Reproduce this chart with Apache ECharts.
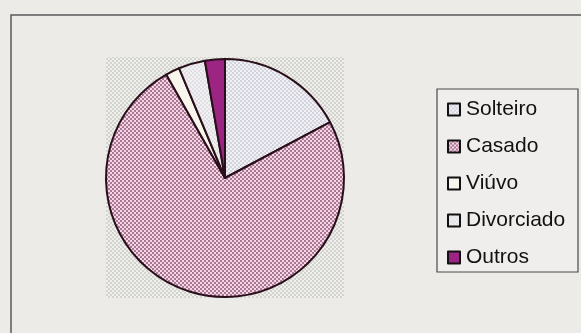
<!DOCTYPE html>
<html>
<head>
<meta charset="utf-8">
<script src="https://cdn.jsdelivr.net/npm/echarts@6/dist/echarts.min.js"></script>
<style>
  html, body { margin: 0; padding: 0; background: #ecebe8; }
  #chart { width: 581px; height: 333px; }
</style>
</head>
<body>
<div id="chart"></div>
<script>
// Data
const categories = ['Solteiro', 'Casado', 'Viúvo', 'Divorciado', 'Outros'];
const values = [17.2, 74.4, 1.9, 3.6, 2.7];

function checker(a, b, cell) {
  const c = document.createElement('canvas');
  c.width = cell * 2; c.height = cell * 2;
  const ctx = c.getContext('2d');
  ctx.fillStyle = a; ctx.fillRect(0, 0, cell * 2, cell * 2);
  ctx.fillStyle = b;
  ctx.fillRect(0, 0, cell, cell);
  ctx.fillRect(cell, cell, cell, cell);
  return { image: c, repeat: 'repeat' };
}

const fills = [
  checker('#f1f1f5', '#d4d4de', 2),
  checker('#f6d6e6', '#a87892', 2),
  '#f7f5ec',
  checker('#f1f0f2', '#e0dfe3', 2),
  '#9c2482'
];

const chart = echarts.init(document.getElementById('chart'), null, { renderer: 'canvas' });
chart.setOption({
  animation: false,
  backgroundColor: '#ecebe8',
  graphic: [
    { type: 'rect', z: -10, shape: { x: 11, y: 15, width: 620, height: 400 },
      style: { fill: 'none', stroke: '#5a5a5a', lineWidth: 1.5 } },
    { type: 'rect', z: -5, shape: { x: 106, y: 57, width: 238, height: 241 },
      style: { fill: checker('#efefec', '#d2d2cf', 2) } },
    { type: 'rect', z: -5, shape: { x: 437, y: 89, width: 141, height: 183 },
      style: { fill: '#efeeec', stroke: '#4a4a4a', lineWidth: 1.2 } }
  ],
  legend: {
    orient: 'vertical',
    left: 442,
    top: 94,
    icon: 'rect',
    itemWidth: 12,
    itemHeight: 12,
    itemGap: 16,
    selectedMode: false,
    itemStyle: { borderColor: '#111111', borderWidth: 2 },
    textStyle: {
      fontFamily: 'Liberation Sans, Arial, sans-serif',
      fontSize: 21,
      lineHeight: 20,
      color: '#111111',
      padding: [0, 0, 0, 1]
    },
    data: categories
  },
  series: [{
    type: 'pie',
    center: [225, 178],
    radius: 119,
    startAngle: 90,
    clockwise: true,
    label: { show: false },
    labelLine: { show: false },
    emphasis: { disabled: true },
    itemStyle: { borderColor: '#2a0f1a', borderWidth: 2 },
    data: categories.map((n, i) => ({ name: n, value: values[i], itemStyle: { color: fills[i] } }))
  }]
});
</script>
</body>
</html>
